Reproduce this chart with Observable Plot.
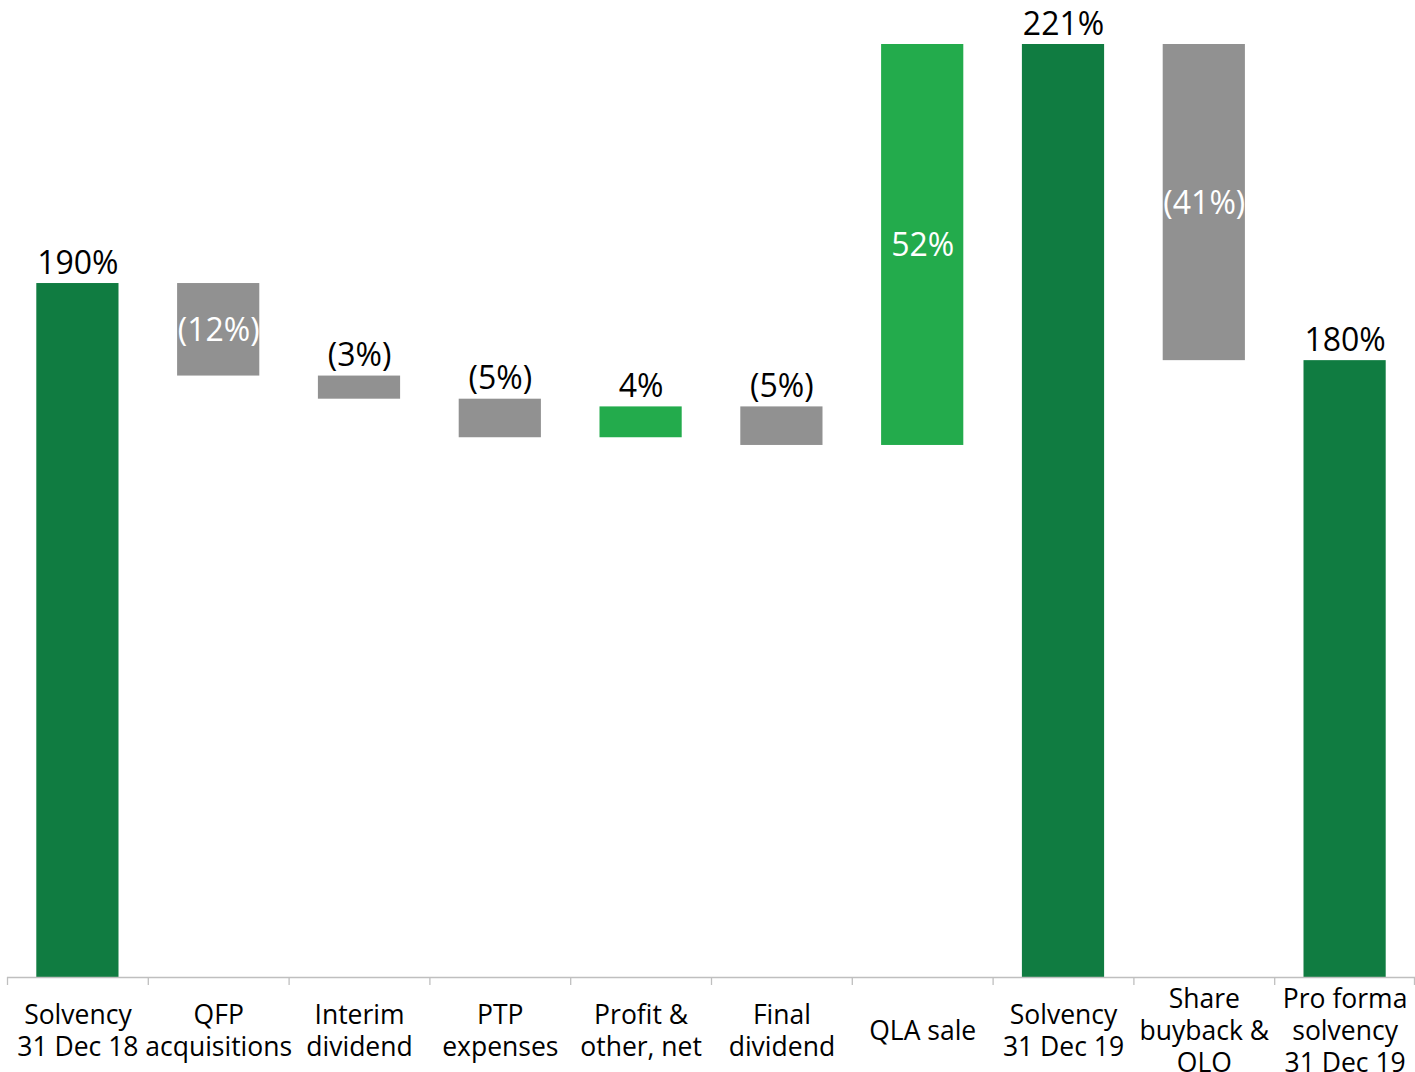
<!DOCTYPE html>
<html>
<head>
<meta charset="utf-8">
<script src="https://cdn.jsdelivr.net/npm/d3@7"></script>
<script src="https://cdn.jsdelivr.net/npm/@observablehq/plot@0.6"></script>
<style>
  html, body { margin: 0; padding: 0; background: #ffffff; }
  #chart svg { display: block; }
</style>
</head>
<body>
<div id="chart"></div>
<script>
// ---- Data ----
const categories = [
  "Solvency\n31 Dec 18",
  "QFP\nacquisitions",
  "Interim\ndividend",
  "PTP\nexpenses",
  "Profit &\nother, net",
  "Final\ndividend",
  "QLA sale",
  "Solvency\n31 Dec 19",
  "Share\nbuyback &\nOLO",
  "Pro forma\nsolvency\n31 Dec 19"
];
const values = [190, -12, -3, -5, 4, -5, 52, 221, -41, 180];
const kinds = ["total", "decrease", "decrease", "decrease", "increase", "decrease", "increase", "total", "decrease", "total"];
const baseValue = 100;   // the category axis sits at 100%
const topValue = 221;

// ---- Build waterfall rows ----
const colorOf = {total: "#107C41", increase: "#23AB4C", decrease: "#919191"};
let running = 0;
const rows = categories.map((cat, i) => {
  const v = values[i], k = kinds[i];
  let y1, y2;
  if (k === "total") { y1 = baseValue; y2 = v; running = v; }
  else { y1 = running; y2 = running + v; running = y2; }
  const label = k === "total" ? `${v}%` : (v < 0 ? `(${Math.abs(v)}%)` : `${v}%`);
  const inside = k !== "total" && Math.abs(v) >= 10;
  return {cat, value: v, kind: k, y1, y2, top: Math.max(y1, y2), mid: (y1 + y2) / 2, label, inside};
});

const W = 1415, H = 1072;
const mL = 7, mR = 0, mT = 44, mB = 95;
const step = (W - mL - mR) / categories.length;
const barInset = 29.3;

const chart = Plot.plot({
  width: W,
  height: H,
  marginLeft: mL,
  marginRight: mR,
  marginTop: mT,
  marginBottom: mB,
  style: {fontFamily: "'Open Sans', sans-serif", background: "#ffffff", color: "#000"},
  x: {type: "band", domain: categories, padding: 0, round: false, axis: null},
  y: {domain: [baseValue, topValue], axis: null},
  marks: [
    Plot.barY(rows, {
      x: "cat", y1: "y1", y2: "y2",
      fill: d => colorOf[d.kind],
      insetLeft: barInset, insetRight: barInset
    }),
    // axis baseline
    Plot.ruleY([baseValue], {stroke: "#BFBFBF", strokeWidth: 1.3}),
    // boundary ticks
    Plot.ruleX(categories, {x: d => d, y1: baseValue, y2: baseValue, dx: -step / 2, insetBottom: -8, stroke: "#BFBFBF", strokeWidth: 1.3}),
    Plot.ruleX([categories[categories.length - 1]], {x: d => d, y1: baseValue, y2: baseValue, dx: step / 2 - 1, insetBottom: -8, stroke: "#BFBFBF", strokeWidth: 1.3}),
    // value labels above bars
    Plot.text(rows.filter(d => !d.inside), {
      x: "cat", y: "top", text: "label",
      lineAnchor: "bottom", dy: -10,
      fontSize: 32, fill: "#000"
    }),
    // value labels inside bars
    Plot.text(rows.filter(d => d.inside), {
      x: "cat", y: "mid", text: "label",
      lineAnchor: "middle", dy: 1,
      fontSize: 32, fill: "#ffffff"
    }),
    // category labels
    Plot.text(categories, {
      x: d => d, y: baseValue, text: d => d,
      lineAnchor: "middle", dy: 52, lineHeight: 32 / 26.5,
      fontSize: 26.5, fill: "#000"
    })
  ]
});

document.getElementById("chart").appendChild(chart);
</script>
</body>
</html>
